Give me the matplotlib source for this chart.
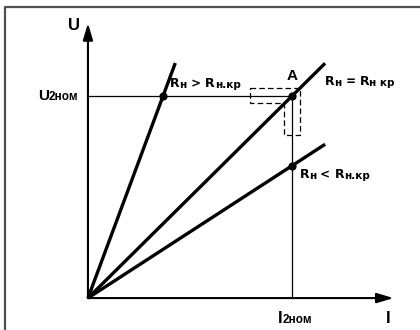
import numpy as np
import matplotlib.pyplot as plt
from matplotlib.patches import Polygon

# nominal point (per unit)
i_nom = 1.0
u_nom = 1.0

# load lines: slope U/I and how far they run along I
slopes = [1 / 0.368, 1.0, 0.655]
x_end = [0.428, 1.162, 1.162]
widths = [2.4, 2.4, 2.4]

# dots on the lines
dot_x = [0.368, 1.0, 1.0]
dot_y = [1.0, 1.0, 0.655]

# dashed L-shaped region around point A
box_x = [0.794, 1.039, 1.039, 0.961, 0.961, 0.794]
box_y = [1.04, 1.04, 0.805, 0.805, 0.965, 0.965]

fig = plt.figure(figsize=(4.2, 3.3), dpi=100)
ax = fig.add_axes([0, 0, 1, 1])
ax.set_xlim(-0.431, 1.627)
ax.set_ylim(-0.158, 1.475)
ax.axis('off')

# frame (only top and left edge visible)
ax.plot([-0.407, -0.407, 1.7], [-0.2, 1.441, 1.441], color='#505050', lw=1.6,
        solid_capstyle='butt', clip_on=False)

# axes with arrows
ax.annotate('', xy=(1.497, 0), xytext=(0, 0),
            arrowprops=dict(arrowstyle='-|>,head_length=1.0,head_width=0.3', color='k', lw=1.5,
                            shrinkA=0, shrinkB=0))
ax.annotate('', xy=(0, 1.36), xytext=(0, 0),
            arrowprops=dict(arrowstyle='-|>,head_length=1.0,head_width=0.3', color='k', lw=1.5,
                            shrinkA=0, shrinkB=0))

# guide lines
ax.plot([0, i_nom], [u_nom, u_nom], color='k', lw=0.9)
ax.plot([i_nom, i_nom], [0, u_nom], color='k', lw=0.9)

for k, xe, w in zip(slopes, x_end, widths):
    ax.plot([0, xe], [0, k * xe], color='k', lw=w, solid_capstyle='butt')

ax.scatter(dot_x, dot_y, s=24, color='k', zorder=5)

ax.add_patch(Polygon(np.column_stack([box_x, box_y]), closed=True, fill=False,
                     ls=(0, (4.5, 2.5)), lw=0.9, ec='k'))


def label(x, y, parts, fam='Liberation Sans'):
    t = ax.text(x, y, parts[0][0], fontsize=parts[0][1], fontweight='bold',
                va='center', ha='left', family=fam)
    for s, fs in parts[1:]:
        t = ax.annotate(s, xy=(1, 0), xycoords=t, fontsize=fs, fontweight='bold',
                        va='bottom', ha='left', family=fam)


label(-0.10, 1.35, [('U', 12)])
label(-0.245, 1.0, [('U', 11), ('2ном', 8.5)])
label(0.93, -0.103, [('I', 12), ('2ном', 8.5)])
label(1.46, -0.103, [('I', 12)])
ax.text(1.0, 1.1, 'A', fontsize=11, fontweight='bold', ha='center', va='center',
        family='Liberation Sans')

r_gt = [('R', 9), ('н', 7.5), (' > ', 8.5), ('R', 9), ('н.кр', 7.5)]
r_eq = [('R', 9), ('н', 7.5), (' = ', 8.5), ('R', 9), ('н кр', 7.5)]
r_lt = [('R', 9), ('н', 7.5), (' < ', 8.5), ('R', 9), ('н.кр', 7.5)]
label(0.402, 1.06, r_gt, 'DejaVu Sans')
label(1.16, 1.07, r_eq, 'DejaVu Sans')
label(1.037, 0.61, r_lt, 'DejaVu Sans')

fig.savefig('out.png', dpi=100)
